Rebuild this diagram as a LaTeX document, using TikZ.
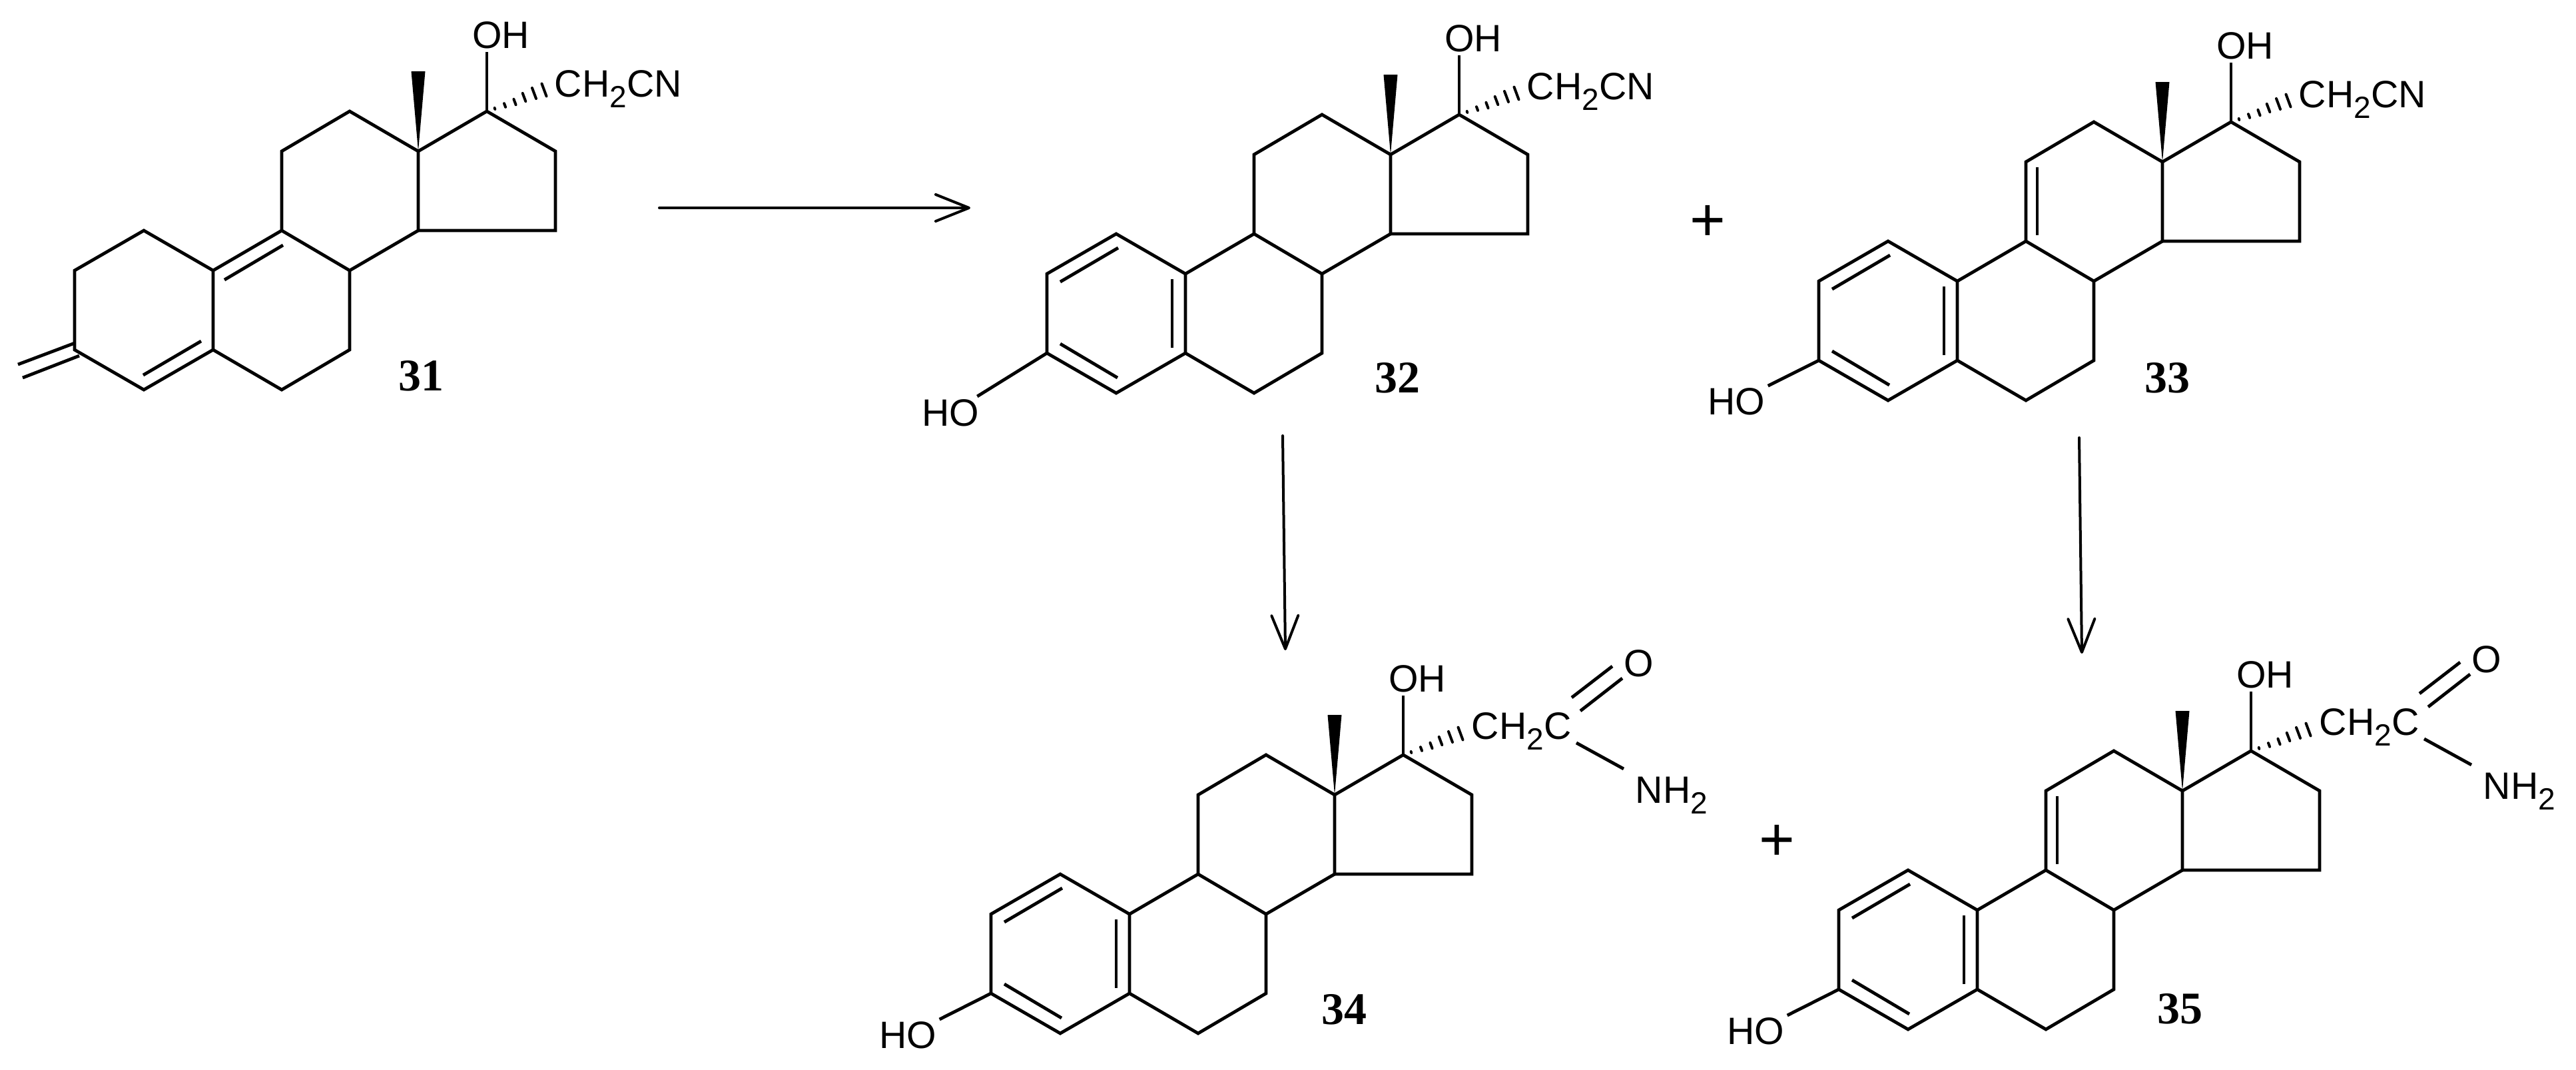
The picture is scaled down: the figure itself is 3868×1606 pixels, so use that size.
\documentclass[tikz,border=0pt]{standalone}
\usepackage{fontspec}
\setmainfont{Liberation Sans}
\newfontfamily\numfont{Liberation Serif}
\usetikzlibrary{arrows.meta}
\newcommand{\subtwo}{\raisebox{-4pt}{\fontsize{11.5}{12}\selectfont 2}}
\tikzset{
  bond/.style={line width=1.2pt,line join=miter},
  hash/.style={line width=1pt,line cap=round},
  atomlabel/.style={font=\fontsize{14.3}{16}\selectfont,inner sep=1pt},
  chainlabel/.style={atomlabel,anchor=base west,inner sep=0pt},
  numlabel/.style={font=\numfont\bfseries\fontsize{17}{20}\selectfont,inner sep=0pt},
  pluslabel/.style={font=\fontsize{23}{24}\selectfont,inner sep=0pt},
  reaction/.style={line width=1pt,line cap=round,-{Straight Barb[round,length=12.5pt,width=10pt]}}
}
% ring skeleton, methyl wedge, 17-OH and hashed bond
\newcommand{\steroid}[3]{
\begin{scope}[shift={(#2,#3)}]
\coordinate (#1c13) at (0,0);
\coordinate (#1c12) at (-103,-60);
\coordinate (#1c11) at (-205,0);
\coordinate (#1c9) at (-205,119);
\coordinate (#1c8) at (-103,179);
\coordinate (#1c14) at (0,119);
\coordinate (#1c15) at (206,119);
\coordinate (#1c16) at (206,0);
\coordinate (#1c17) at (103,-60);
\coordinate (#1c7) at (-103,298);
\coordinate (#1c6) at (-205,358);
\coordinate (#1c5) at (-308,298);
\coordinate (#1c10) at (-308,179);
\coordinate (#1c1) at (-412,119);
\coordinate (#1c2) at (-516,179);
\coordinate (#1c3) at (-516,298);
\coordinate (#1c4) at (-412,358);
\node[atomlabel] (#1oh) at (124,-174) {OH};
\end{scope}
\draw[bond] (#1c13) -- (#1c12) -- (#1c11) -- (#1c9) -- (#1c8) -- (#1c14) -- (#1c13);
\draw[bond] (#1c13) -- (#1c17) -- (#1c16) -- (#1c15) -- (#1c14);
\draw[bond] (#1c8) -- (#1c7) -- (#1c6) -- (#1c5) -- (#1c10) -- (#1c9);
\draw[bond] (#1c10) -- (#1c1) -- (#1c2) -- (#1c3) -- (#1c4) -- (#1c5);
\draw[bond] (#1c17) -- (#1c17 |- #1oh.south);
\fill (#1c13) -- ++(-10.5,-120) -- ++(21,0) -- cycle;
\draw[hash] (#1c17) ++(11.6,-5) -- ++(.7,1.9);
\draw[hash] (#1c17) ++(26,-11.8) -- ++(2.1,5.6);
\draw[hash] (#1c17) ++(40.4,-18.2) -- ++(3.2,8.5);
\draw[hash] (#1c17) ++(53.7,-27.1) -- ++(4.6,12.2);
\draw[hash] (#1c17) ++(68,-35) -- ++(6,16);
\draw[hash] (#1c17) ++(82.5,-41.4) -- ++(7,18.8);
}
% aromatic A ring with phenol OH
\newcommand{\aromatic}[3]{
\draw[bond] (#1c2) ++(20,12) -- ++(87,-51);
\draw[bond] (#1c3) ++(20,-14) -- ++(86,51);
\draw[bond] (#1c10) ++(-20,8) -- ++(0,103);
\node[atomlabel] (#1ho) at ([shift={(#2,#3)}]#1c3) {HO};
\draw[bond] (#1c3) -- (#1ho);
}
% C9=C11
\newcommand{\eneC}[1]{
\draw[bond] (#1c11) ++(17,8) -- ++(0,102);
}
\newcommand{\cyanide}[1]{
\node[chainlabel] (#1ch) at ([shift={(101,-22)}]#1c17) {CH\subtwo CN};
}
\newcommand{\amide}[1]{
\node[chainlabel] (#1ch) at ([shift={(102,-24)}]#1c17) {CH\subtwo C};
\node[atomlabel] (#1o) at ([shift={(457,-197)}]#1c13) {O};
\node[chainlabel] (#1n) at ([shift={(451,12)}]#1c13) {NH\subtwo};
\coordinate (#1d1) at ([shift={(356,-146)}]#1c13);
\coordinate (#1d2) at ([shift={(417,-193)}]#1c13);
\coordinate (#1d3) at ([shift={(369,-126)}]#1c13);
\coordinate (#1d4) at ([shift={(432,-175)}]#1c13);
\coordinate (#1d5) at ([shift={(363,-78)}]#1c13);
\coordinate (#1d6) at ([shift={(434,-39)}]#1c13);
\draw[bond] (#1d1) -- (#1d2);
\draw[bond] (#1d3) -- (#1d4);
\draw[bond] (#1d5) -- (#1d6);
}

\begin{document}
\begin{tikzpicture}[x=0.25pt,y=-0.25pt]
\useasboundingbox (0,0) rectangle (3868,1606);
%31
\steroid{m31}{628}{227}
\cyanide{m31}
\draw[bond] (m31c10) ++(17,14) -- ++(88,-52);
\draw[bond] (m31c4) ++(-1,-22) -- ++(87,-51);
\coordinate (m31ch1) at (27,547);
\coordinate (m31ch2) at (34,567);
\draw[bond] (m31c3) ++(0,-10) -- (m31ch1);
\draw[bond] (m31c3) ++(7,9) -- (m31ch2);
\node[numlabel] (n31) at ([shift={(4,337)}]m31c13) {31};
%32
\steroid{m32}{2088}{232}
\cyanide{m32}
\aromatic{m32}{-145}{90}
\node[numlabel] (n32) at ([shift={(10,335)}]m32c13) {32};
%33
\steroid{m33}{3247}{243}
\cyanide{m33}
\aromatic{m33}{-124}{62}
\eneC{m33}
\node[numlabel] (n33) at ([shift={(7,324)}]m33c13) {33};
%34
\steroid{m34}{2004}{1193}
\amide{m34}
\aromatic{m34}{-125}{63}
\node[numlabel] (n34) at ([shift={(14,322)}]m34c13) {34};
%35
\steroid{m35}{3277}{1187}
\amide{m35}
\aromatic{m35}{-125}{63}
\eneC{m35}
\node[numlabel] (n35) at ([shift={(-4,327)}]m35c13) {35};
%plus signs
\node[pluslabel] (plusa) at (2564,335) {+};
\node[pluslabel] (plusb) at (2668,1265) {+};
%arrows
\coordinate (arra) at (990,312);
\coordinate (arrb) at (1457,312);
\coordinate (arrc) at (1926,654);
\coordinate (arrd) at (1930,976);
\coordinate (arre) at (3122,657);
\coordinate (arrf) at (3126,981);
\draw[reaction] (arra) -- (arrb);
\draw[reaction] (arrc) -- (arrd);
\draw[reaction] (arre) -- (arrf);
\end{tikzpicture}
\end{document}
